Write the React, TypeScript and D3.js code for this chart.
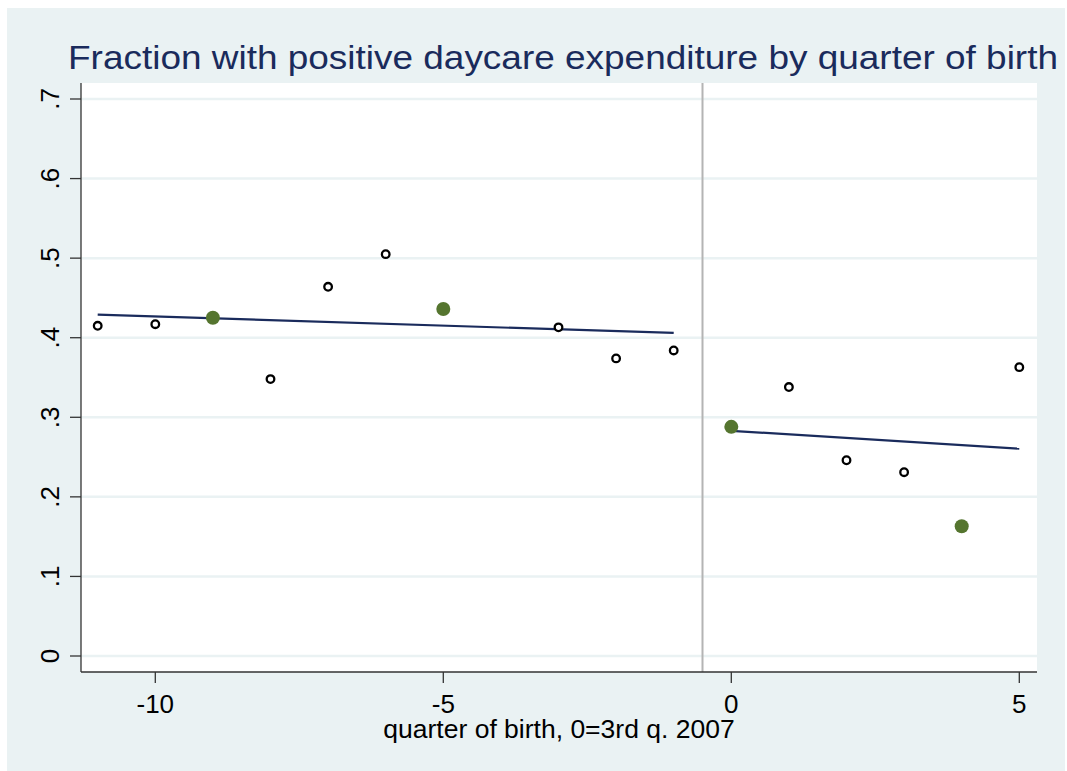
import * as d3 from "d3";
import React from "react";
import { useEffect, useRef } from "react";

// quarter of birth, 0 = 3rd quarter 2007
const hollowX = [-11, -10, -8, -7, -6, -3, -2, -1, 1, 2, 3, 5];
const hollowY = [0.415, 0.417, 0.348, 0.464, 0.505, 0.413, 0.374, 0.384, 0.338, 0.246, 0.231, 0.363];

const greenX = [-9, -5, 0, 4];
const greenY = [0.425, 0.436, 0.288, 0.163];

// linear fit endpoints, before and after the cutoff
const fitLeftX = [-11, -1];
const fitLeftY = [0.429, 0.406];
const fitRightX = [0, 5];
const fitRightY = [0.283, 0.2605];

const xTicks = [-10, -5, 0, 5];
const yTicks = [0, 0.1, 0.2, 0.3, 0.4, 0.5, 0.6, 0.7];
const yTickLabels = ["0", ".1", ".2", ".3", ".4", ".5", ".6", ".7"];
const cutoff = -0.5;

const App = () => {
    const chartArea = useRef(null);
    const W = 1067, H = 771;
    const plot = { left: 81, right: 1037, top: 83, bottom: 672 };
    const colors = { bg: "#eaf2f3", navy: "#1a2b5c", green: "#55752f", grid: "#eaf2f3", ref: "#b4b4b4" };
    const font = "'Liberation Sans', Arial, sans-serif";

    useEffect(() => {
        const svg = d3.select(chartArea.current);
        svg.selectAll("*").remove();

        const x = d3.scaleLinear().domain([-11, 5]).range([97.7, 1019.3]);
        const y = d3.scaleLinear().domain([0, 0.7]).range([656, 99]);

        svg.append("rect")
            .attr("x", 7).attr("y", 8)
            .attr("width", 1058).attr("height", H - 8)
            .attr("fill", colors.bg);

        svg.append("rect")
            .attr("x", plot.left).attr("y", plot.top)
            .attr("width", plot.right - plot.left).attr("height", plot.bottom - plot.top)
            .attr("fill", "white");

        // gridlines
        svg.append("g")
            .selectAll("line")
            .data(yTicks)
            .enter()
            .append("line")
            .attr("x1", plot.left).attr("x2", plot.right)
            .attr("y1", d => y(d)).attr("y2", d => y(d))
            .attr("stroke", colors.grid)
            .attr("stroke-width", 2.5);

        // reference line at the cutoff
        svg.append("line")
            .attr("x1", x(cutoff)).attr("x2", x(cutoff))
            .attr("y1", plot.top).attr("y2", plot.bottom)
            .attr("stroke", colors.ref)
            .attr("stroke-width", 2);

        // axes
        const yAxis = svg.append("g").attr("transform", `translate(${plot.left},0)`);
        yAxis.append("line")
            .attr("x1", 0).attr("x2", 0)
            .attr("y1", plot.top).attr("y2", plot.bottom)
            .attr("stroke", "#333").attr("stroke-width", 1.3);
        yAxis.selectAll(".tick")
            .data(yTicks)
            .enter()
            .append("line")
            .attr("x1", -11).attr("x2", 0)
            .attr("y1", d => y(d)).attr("y2", d => y(d))
            .attr("stroke", "#333").attr("stroke-width", 1.3);
        yAxis.selectAll("text")
            .data(yTicks)
            .enter()
            .append("text")
            .attr("transform", d => `translate(-22,${y(d)}) rotate(-90)`)
            .attr("text-anchor", "middle")
            .attr("font-family", font)
            .attr("font-size", "26px")
            .attr("fill", "black")
            .text((d, i) => yTickLabels[i]);

        const xAxis = svg.append("g").attr("transform", `translate(0,${plot.bottom})`);
        xAxis.append("line")
            .attr("x1", plot.left).attr("x2", plot.right)
            .attr("y1", 0).attr("y2", 0)
            .attr("stroke", "#333").attr("stroke-width", 1.3);
        xAxis.selectAll(".tick")
            .data(xTicks)
            .enter()
            .append("line")
            .attr("x1", d => x(d)).attr("x2", d => x(d))
            .attr("y1", 0).attr("y2", 11)
            .attr("stroke", "#333").attr("stroke-width", 1.3);
        xAxis.selectAll("text")
            .data(xTicks)
            .enter()
            .append("text")
            .attr("x", d => x(d))
            .attr("y", 41)
            .attr("text-anchor", "middle")
            .attr("font-family", font)
            .attr("font-size", "26px")
            .attr("fill", "black")
            .text(d => String(d));

        svg.append("text")
            .attr("x", (plot.left + plot.right) / 2)
            .attr("y", 738)
            .attr("text-anchor", "middle")
            .attr("font-family", font)
            .attr("font-size", "26.5px")
            .attr("fill", "black")
            .text("quarter of birth, 0=3rd q. 2007");

        svg.append("text")
            .attr("x", 68)
            .attr("y", 69)
            .attr("font-family", font)
            .attr("font-size", "33px")
            .attr("fill", colors.navy)
            .attr("textLength", 990)
            .attr("lengthAdjust", "spacingAndGlyphs")
            .text("Fraction with positive daycare expenditure by quarter of birth");

        // fitted lines
        const line = d3.line<number>()
            .x(d => x(d[0]))
            .y(d => y(d[1]));
        [[fitLeftX, fitLeftY], [fitRightX, fitRightY]].forEach(([fx, fy]) => {
            svg.append("path")
                .datum(d3.zip(fx, fy))
                .attr("d", line as any)
                .attr("fill", "none")
                .attr("stroke", colors.navy)
                .attr("stroke-width", 2.2);
        });

        // hollow points
        svg.append("g")
            .selectAll("circle")
            .data(d3.zip(hollowX, hollowY))
            .enter()
            .append("circle")
            .attr("cx", d => x(d[0]))
            .attr("cy", d => y(d[1]))
            .attr("r", 3.8)
            .attr("fill", "white")
            .attr("stroke", "black")
            .attr("stroke-width", 2.3);

        // highlighted points
        svg.append("g")
            .selectAll("circle")
            .data(d3.zip(greenX, greenY))
            .enter()
            .append("circle")
            .attr("cx", d => x(d[0]))
            .attr("cy", d => y(d[1]))
            .attr("r", 7)
            .attr("fill", colors.green);
    }, []);

    return (
        <svg ref={chartArea} width={W} height={H}
            style={{ position: "absolute", left: 0, top: 0, display: "block" }} />
    );
};

export default App;
